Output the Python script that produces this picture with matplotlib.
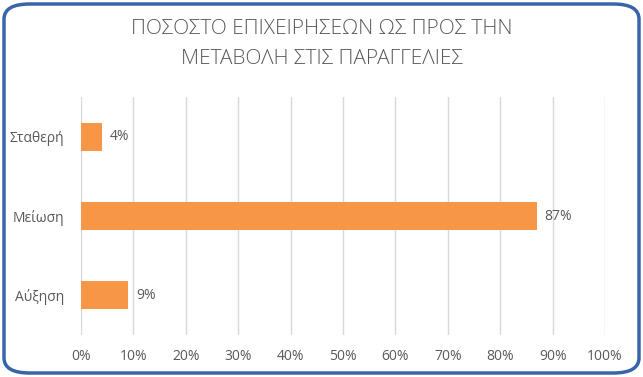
import matplotlib
matplotlib.use('Agg')
import matplotlib.pyplot as plt
from matplotlib.patches import FancyBboxPatch
from matplotlib.ticker import MultipleLocator, PercentFormatter

categories = ['Αύξηση', 'Μείωση', 'Σταθερή']
values = [9, 87, 4]
title = 'ΠΟΣΟΣΤΟ ΕΠΙΧΕΙΡΗΣΕΩΝ ΩΣ ΠΡΟΣ ΤΗΝ\nΜΕΤΑΒΟΛΗ ΣΤΙΣ ΠΑΡΑΓΓΕΛΙΕΣ'

text_color = '#595959'
bar_color = '#F79646'

plt.rcParams['font.family'] = ['Open Sans', 'DejaVu Sans']

fig = plt.figure(figsize=(6.43, 3.77), dpi=100)
ax = fig.add_axes([81 / 643, 1 - 335 / 377, (605 - 81) / 643, (335 - 97) / 377])

ax.barh(categories, values, height=0.35, color=bar_color, zorder=3)
for i, v in enumerate(values):
    ax.text(v + 1.5, i, f'{v}%', va='center', ha='left', fontsize=10, color=text_color)

ax.set_xlim(0, 100)
ax.set_ylim(-0.5, 2.5)
ax.xaxis.set_major_locator(MultipleLocator(10))
ax.xaxis.set_major_formatter(PercentFormatter(decimals=0))
ax.grid(axis='x', color='#D9D9D9', linewidth=1, zorder=0)
for s in ax.spines.values():
    s.set_visible(False)
ax.tick_params(length=0, labelsize=10, labelcolor=text_color, pad=10)
ax.tick_params(axis='y', pad=12)

fig.text(0.5, 1 - 44 / 377, title, ha='center', va='center', fontsize=15,
         color=text_color, fontweight='light', linespacing=1.6)

border = FancyBboxPatch((4 / 643, 4 / 377), 635 / 643, 369 / 377,
                        boxstyle='round,pad=0,rounding_size=0.04',
                        transform=fig.transFigure, facecolor='none',
                        edgecolor='#3A64AA', linewidth=2.5, clip_on=False)
fig.patches.append(border)

fig.savefig('out.png', dpi=100)
